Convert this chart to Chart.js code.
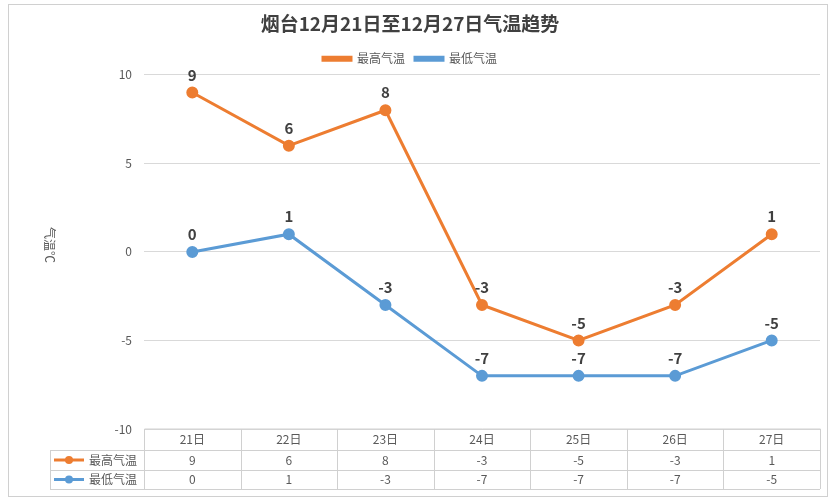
<!DOCTYPE html>
<html><head><meta charset="utf-8">
<script src="https://cdn.jsdelivr.net/npm/chart.js@4/dist/chart.umd.min.js"></script>
<style>html,body{margin:0;padding:0;background:#fff}</style>
</head><body><canvas id="c" width="833" height="500"></canvas>
<script>
const categories=['21日','22日','23日','24日','25日','26日','27日'];
const highTemps=[9,6,8,-3,-5,-3,1];
const lowTemps=[0,1,-3,-7,-7,-7,-5];
const seriesNames=['最高气温','最低气温'];
const colors=['#ED7D31','#5B9BD5'];
const F='"Noto Sans CJK SC","Noto Sans",sans-serif';

const extra={id:'extra',afterDraw(ch){
  const c=ch.ctx,x=ch.scales.x,y=ch.scales.y,a=ch.chartArea;
  c.save();
  c.strokeStyle='#d0d0d0';c.lineWidth=1;c.strokeRect(8.5,4.5,819,492);
  c.font='bold 15px '+F;c.fillStyle='#404040';c.textAlign='center';c.textBaseline='bottom';
  [highTemps,lowTemps].forEach((d)=>d.forEach((v,i)=>{
    c.fillText(String(v),x.getPixelForValue(i),y.getPixelForValue(v)-10);
  }));
  c.translate(50,245);c.rotate(Math.PI/2);c.font='12px '+F;c.fillStyle='#595959';c.textAlign='center';c.textBaseline='middle';
  c.fillText('气温℃',0,0);
  c.restore();c.save();
  const L=50,R=a.right,T=a.bottom,rows=[T,T+21,T+41,T+60];
  c.strokeStyle='#d0d0d0';c.lineWidth=1;
  c.beginPath();
  c.moveTo(a.left+.5,T);c.lineTo(R+.5,T);
  for(let k=1;k<4;k++){c.moveTo(L,rows[k]+.5);c.lineTo(R,rows[k]+.5);}
  c.moveTo(L+.5,rows[1]);c.lineTo(L+.5,rows[3]);
  const bw=(a.right-a.left)/categories.length;
  for(let i=0;i<=categories.length;i++){const px=Math.round(a.left+i*bw)+.5;c.moveTo(px,T);c.lineTo(px,rows[3]);}
  c.stroke();
  c.font='12px '+F;c.fillStyle='#595959';c.textAlign='center';c.textBaseline='middle';
  categories.forEach((t,i)=>{const px=x.getPixelForValue(i);
    c.fillText(t,px,(rows[0]+rows[1])/2);
    c.fillText(String(highTemps[i]),px,(rows[1]+rows[2])/2);
    c.fillText(String(lowTemps[i]),px,(rows[2]+rows[3])/2);});
  seriesNames.forEach((n,k)=>{const cy=(rows[k+1]+rows[k+2])/2;
    c.strokeStyle=colors[k];c.lineWidth=3;c.beginPath();c.moveTo(54,cy);c.lineTo(84,cy);c.stroke();
    c.fillStyle=colors[k];c.beginPath();c.arc(69,cy,4,0,7);c.fill();
    c.fillStyle='#595959';c.textAlign='left';c.fillText(n,89,cy);});
  c.restore();
}};

new Chart(document.getElementById('c'),{type:'line',
 data:{labels:categories,datasets:[
  {label:seriesNames[0],data:highTemps,borderColor:colors[0],backgroundColor:colors[0],borderWidth:3,pointRadius:4.5,tension:0},
  {label:seriesNames[1],data:lowTemps,borderColor:colors[1],backgroundColor:colors[1],borderWidth:3,pointRadius:4.5,tension:0}]},
 options:{responsive:false,animation:false,devicePixelRatio:1,
  layout:{padding:{left:0,right:13,top:0,bottom:71}},
  scales:{
   x:{offset:true,display:false},
   y:{min:-10,max:10,ticks:{stepSize:5,color:'#595959',font:{size:12,family:F},padding:12},
      grid:{color:'#d9d9d9',drawTicks:false},border:{display:false},
      afterFit(s){s.width=144;}}
  },
  plugins:{
   title:{display:true,text:'烟台12月21日至12月27日气温趋势',color:'#404040',font:{size:19,weight:'bold',family:F},padding:{top:12,bottom:8}},
   legend:{labels:{color:'#595959',font:{size:12,family:F},boxWidth:28,boxHeight:3,padding:10}},
   tooltip:{enabled:false}}
 },plugins:[extra]});
</script></body></html>
